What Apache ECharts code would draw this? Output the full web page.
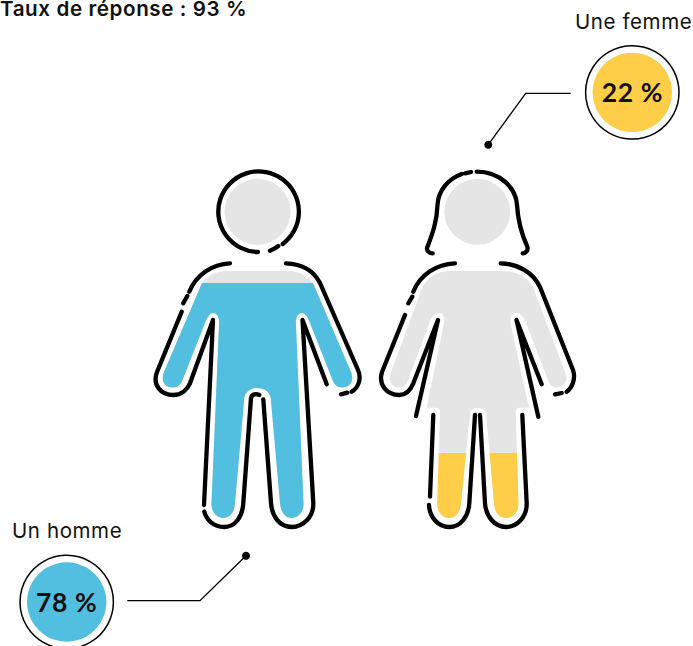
<!DOCTYPE html>
<html><head><meta charset="utf-8">
<style>html,body{margin:0;padding:0;background:#fff}#c{width:693px;height:646px}svg text{letter-spacing:.6px}</style>
<script src="https://cdn.jsdelivr.net/npm/echarts@6/dist/echarts.min.js"></script>
</head><body><div id="c"></div>
<script>
const categories = ['Un homme', 'Une femme'];
const shares = [78, 22];
const responseRate = 93;
const colors = ['#52BFE0', '#FFCE48'];

const manShape = 'M224.5 211.7a33 33 0 1 0 66 0a33 33 0 1 0 -66 0Z M227 271L288 271C299 271 307 275 313 283L351 372C355 382 349 387.5 342 387.5C337 387.5 334 384 332.5 380L310 323C307 315 304 313 302 313C298 313 295.7 317 295.9 323L303.5 503C304 512 298 518 291.7 518C285 518 280.5 512 280 503L270.7 398C270 392 264 388 257.5 388C251 388 245 392 244.3 398L235 503C234.5 512 230 518 223.3 518C217 518 211 512 211.5 503L219.1 323C219.3 317 217 313 213 313C211 313 208 315 205 323L182.5 380C181 384 178 387.5 173 387.5C166 387.5 160 382 164 372L202 283C208 275 216 271 227 271Z';
const womanShape = 'M444.3 211.7a33 33 0 1 0 66 0a33 33 0 1 0 -66 0Z M450 271L503.5 271C517 271 527 277 533 287L565 372C569 381 564 387.5 556.7 387.5C552 387.5 549.5 384 548 380L526 323C523 315 519 313 516 313C512 313 510 317 510.5 323L529 407.7L520 407.7C517 407.7 515.7 409 515.7 412L518.5 503C519 512 513 518 506 518C499 518 494.5 512 494 503L486 413C485.5 410 482 408 478 408C474 408 470.5 410 470 413L461 503C460.5 512 456 518 449.3 518C442 518 437 512 437.2 503L440 412C440 409 438.5 407.7 436 407.7L426.7 407.7L444 323C445 317 443 313 439 313C436 313 432 315 429.5 323L408 380C406.5 384 404 387.5 399.3 387.5C392 387.5 387 381 391 372L422.5 287C428 277 438 271 450 271Z';
const manLine = 'M282.7 244A40.3 40.3 0 1 0 258 252 M270 250.7Q275 248.7 278.3 246 M286 263.3C302 264 314 271 320 283L358 370C362 379 358 388 351.7 391.7 M347.3 392.7L341 394.3 M326.7 384.3L302.5 320L313.3 503C313.8 517 303 527 291.7 527C280 527 272 517 271 503L263.3 399.5 M259.3 395C256 393.5 252 394 251 398L243.3 503C242.5 517 235 527 224.3 527C213 527 206 519 204.3 511.5 M204 505L213 320L190 383.3C187 390 181 395 173.3 395C161 395 152 385 157 372L181.7 311.7 M183.3 303.3L187.3 296 M189.3 291.7C196 275 212 264 230 263.3';
const womanLine = 'M476.7 171.7C500 171.7 516 188 517 205C518 222 522 235 527.3 246.7C528.5 250 526 253.5 522.7 253.3 M465 173.3L471 172 M461.7 174C448 179 438 191 437.5 205C437 222 432 235 427.3 247.3C426 250 429 253.5 432.7 253.3 M500.7 263.3C518 264 533 272 540 287L573 370C576 379 572 388 566.7 391.7 M561.7 393L555 394.3 M541.7 384.3L516.5 320L538.3 416.7 M522.3 415L526.7 503.3C527 517 517 527 506 527C495 527 486 517 485 503.3L480 415 M475 415L469.3 503.3C468.5 517 460 527 449.3 527C438 527 429.5 517 429 505 M430 496.7L433.3 415 M416 416L438 320L413.3 383.3C410.5 390 406 395 399.3 395C387 395 378 385 382 372L405 315 M408.3 303.3L412.3 296.7 M413.3 291.7C420 275 436 264 455 263.3';

const boxOf = d => echarts.graphic.makePath(d).getBoundingRect();
const shapes = [manShape, womanShape];
const lines = [manLine, womanLine];
const boxes = shapes.map(boxOf);

/* value axis: the figure fill level, read from the fill tops */
const gridLeft = 147.4, gridWidth = 440.6, gridBottomY = 519.8, yMax = 114, pxPerUnit = 3.0357;
const bandCentre = i => gridLeft + gridWidth * (i + 0.5) / 2;
const item = (value, i) => ({
  value,
  symbol: 'path://' + shapes[i],
  symbolSize: [boxes[i].width, boxes[i].height],
  symbolOffset: [boxes[i].x + boxes[i].width / 2 - bandCentre(i), boxes[i].y + boxes[i].height - gridBottomY]
});
const leader = (pts) => ({ type: 'polyline', shape: { points: pts }, style: { fill: 'none', stroke: '#000', lineWidth: 1.3 } });
const circle = (cx, cy, r, style) => ({ type: 'circle', shape: { cx, cy, r }, style });
const text = (x, y, t, font, align) => ({ type: 'text', x, y, z: 12, style: { text: t, font, fill: '#111', align: align || 'left', verticalAlign: 'middle' } });
const labelFont = '400 20.5px Inter';
const valueFont = '700 26.5px Lato';

const chart = echarts.init(document.getElementById('c'), null, { renderer: 'svg' });
chart.setOption({
  animation: false,
  grid: { left: gridLeft, width: gridWidth, top: gridBottomY - yMax * pxPerUnit, height: yMax * pxPerUnit },
  xAxis: { type: 'category', data: categories, show: false },
  yAxis: { type: 'value', min: 0, max: yMax, show: false },
  series: [
    { type: 'pictorialBar', barWidth: '100%', symbolPosition: 'start', silent: true, z: 1,
      itemStyle: { color: '#E5E5E5' }, data: shares.map((v, i) => item(yMax, i)) },
    { type: 'pictorialBar', barWidth: '100%', symbolPosition: 'start', symbolClip: true, symbolBoundingData: yMax, silent: true, z: 2,
      data: shares.map((v, i) => Object.assign(item(v, i), { itemStyle: { color: colors[i] } })) },
    { type: 'custom', silent: true, z: 3, clip: false, coordinateSystem: 'none', data: [0, 1],
      renderItem: (params) => {
        const d = lines[params.dataIndex], b = boxOf(d);
        return { type: 'path', shape: { pathData: d, x: b.x, y: b.y, width: b.width, height: b.height, layout: 'cover' },
          style: { fill: 'none', stroke: '#000', lineWidth: 4.3, lineCap: 'round', lineJoin: 'round' } };
      } }
  ],
  graphic: { elements: [
    text(0, 8, 'Taux de réponse : ' + responseRate + ' %', '600 20.6px Inter'),
    text(12, 530, categories[0], labelFont),
    text(575, 21.5, categories[1], labelFont),
    circle(66.7, 602, 46.7, { fill: 'none', stroke: '#000', lineWidth: 1.5 }),
    circle(66.7, 602, 39.7, { fill: colors[0] }),
    circle(632.3, 92.4, 46.7, { fill: 'none', stroke: '#000', lineWidth: 1.5 }),
    circle(632.3, 92.4, 39.7, { fill: colors[1] }),
    text(66.7, 601.5, shares[0] + ' %', valueFont, 'center'),
    text(632.3, 92, shares[1] + ' %', valueFont, 'center'),
    leader([[127.3, 600.7], [200, 600.7], [246, 555.7]]),
    circle(246, 555.7, 4, { fill: '#000' }),
    leader([[570.7, 93.3], [525.7, 93.3], [488.3, 144.7]]),
    circle(488.3, 144.7, 4, { fill: '#000' })
  ] }
});
</script></body></html>
